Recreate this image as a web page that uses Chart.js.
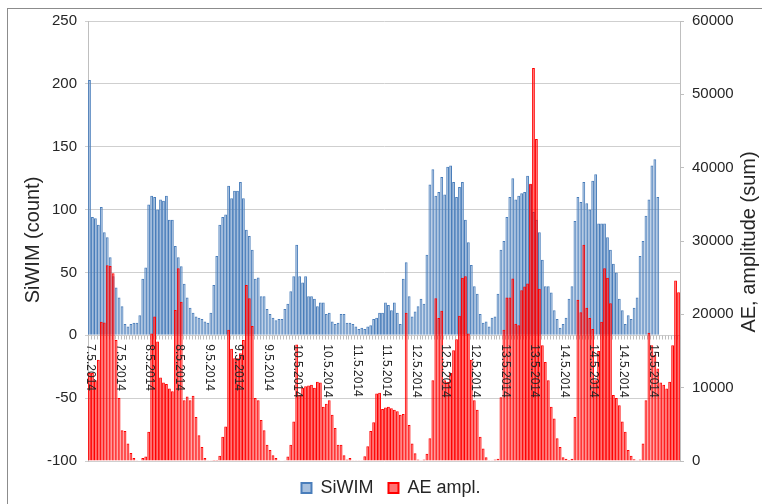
<!DOCTYPE html>
<html>
<head>
<meta charset="utf-8">
<script src="https://cdn.jsdelivr.net/npm/chart.js@4.4.1/dist/chart.umd.min.js"></script>
<style>
html,body{margin:0;padding:0;background:#fff;overflow:hidden}
#wrap{position:relative;width:762px;height:504px;overflow:hidden}
#frame{position:absolute;left:7px;top:8px;width:800px;height:600px;border:1px solid #8c8c8c}
canvas{position:absolute;left:0;top:0}
</style>
</head>
<body>
<div id="wrap"><div id="frame"></div><canvas id="chart" width="762" height="504"></canvas></div>
<script>
// hourly data, first hour 7.5.2014 11:00
var startDay = 7, startHour = 11, hours = 200;
var categories = [];
for (var i = 0; i < hours; i++) {
    categories.push((startDay + Math.floor((startHour + i) / 24)) + ".5.2014");
}

// SiWIM (count) - left axis
var siwimCounts = [
    203, 94, 93, 88, 102, 82, 78, 62, 47, 38,
    30, 23, 9, 7, 9, 10, 10, 16, 45, 54,
    104, 111, 110, 100, 108, 107, 111, 92, 92, 71,
    62, 55, 41, 30, 22, 18, 15, 14, 13, 11,
    10, 18, 40, 63, 88, 94, 96, 119, 109, 115,
    115, 122, 109, 84, 79, 68, 45, 46, 31, 31,
    21, 17, 14, 12, 13, 13, 21, 25, 35, 47,
    72, 47, 42, 47, 31, 31, 29, 23, 26, 26,
    17, 18, 11, 9, 10, 17, 17, 10, 10, 9,
    7, 5, 6, 5, 7, 8, 13, 14, 18, 18,
    26, 24, 20, 26, 18, 9, 45, 58, 31, 15,
    19, 23, 29, 25, 64, 120, 132, 111, 114, 126,
    112, 134, 135, 122, 110, 118, 122, 92, 74, 56,
    39, 33, 17, 10, 11, 7, 14, 15, 33, 68,
    75, 94, 110, 125, 108, 111, 113, 114, 127, 120,
    98, 92, 82, 60, 39, 39, 34, 20, 13, 6,
    9, 14, 29, 39, 91, 110, 106, 122, 105, 100,
    123, 128, 89, 89, 89, 78, 68, 57, 50, 29,
    20, 9, 16, 13, 22, 30, 63, 75, 95, 108,
    135, 140, 110
];

// AE amplitude (sum) - right axis
var aeAmplitudes = [
    12000, 12000, 11000, 13800, 19000, 18900, 26700, 26600, 25600, 16500,
    8600, 4200, 4100, 2400, 1100, 400, 100, 0, 400, 600,
    4000, 17400, 19700, 16300, 11400, 10700, 10500, 9900, 9500, 20600,
    26300, 21700, 8300, 8800, 8300, 8900, 6000, 3500, 1900, 400,
    100, 100, 150, 140, 700, 3300, 4700, 17900, 15300, 14000,
    14000, 14700, 16500, 24000, 22200, 18400, 8600, 8300, 5600, 4200,
    2200, 1500, 800, 400, 100, 0, 50, 600, 2200, 5400,
    15900, 9000, 10000, 10200, 10300, 10400, 10000, 10800, 10700, 7400,
    7800, 8300, 6300, 4500, 2200, 2200, 800, 200, 400, 100,
    50, 50, 100, 650, 2000, 4100, 5300, 9200, 9300, 7100,
    7300, 7400, 7200, 7000, 6800, 6300, 6400, 20200, 4900, 2400,
    1050, 200, 100, 200, 1000, 3100, 11000, 22200, 19500, 20500,
    11000, 10800, 12000, 15100, 16600, 19800, 25000, 25200, 17400, 13800,
    8300, 7000, 3300, 1700, 500, 100, 100, 200, 300, 8700,
    17900, 22300, 22300, 24900, 18700, 18500, 23300, 23800, 24200, 37800,
    53600, 43900, 23500, 15800, 13500, 11000, 7400, 5800, 3100, 1900,
    500, 300, 150, 300, 6000, 22000, 20300, 29500, 20900, 19500,
    18000, 11000, 15000, 19000, 26300, 25000, 21500, 9000, 8600, 7600,
    5400, 4000, 1500, 700, 230, 100, 200, 2400, 8300, 17500,
    15800, 14500, 12600, 10700, 10400, 9900, 10800, 15800, 24600, 23000
];

var labelEvery = 10;
var font = '"Liberation Sans", Arial, sans-serif';
var textColor = '#262626';

// zero line ticks, date labels and axis titles
var extras = {
    id: 'extras',
    afterLayout: function(chart) {
        chart.legend.left += 20;
        chart.legend.top += 3;
        chart.legend.bottom += 3;
    },
    beforeDatasetsDraw: function(chart) {
        var x = chart.scales.x, y = chart.scales.y, ctx = chart.ctx;
        var y0 = Math.round(y.getPixelForValue(0)) + 0.5;
        ctx.save();
        ctx.strokeStyle = '#bdbdbd';
        ctx.lineWidth = 1;
        ctx.beginPath();
        for (var i = 0; i <= categories.length; i++) {
            var px = Math.round(x.getPixelForValue(i - 0.5)) + 0.5;
            ctx.moveTo(px, y0);
            ctx.lineTo(px, y0 + 4);
        }
        ctx.stroke();
        ctx.restore();
    },
    afterDatasetsDraw: function(chart) {
        var x = chart.scales.x, y = chart.scales.y, ctx = chart.ctx;
        var y0 = y.getPixelForValue(0);
        ctx.save();
        ctx.font = '12px ' + font;
        ctx.fillStyle = textColor;
        ctx.textAlign = 'left';
        ctx.textBaseline = 'middle';
        for (var i = 0; i < categories.length; i += labelEvery) {
            ctx.save();
            ctx.translate(x.getPixelForValue(i) + 1, y0 + 9);
            ctx.rotate(Math.PI / 2);
            ctx.fillText(categories[i], 0, 0);
            ctx.restore();
        }
        ctx.restore();
    },
    afterDraw: function(chart) {
        var ctx = chart.ctx;
        ctx.save();
        ctx.font = '20px ' + font;
        ctx.fillStyle = textColor;
        ctx.textAlign = 'center';
        ctx.textBaseline = 'middle';
        ctx.save();
        ctx.translate(33, 240);
        ctx.rotate(-Math.PI / 2);
        ctx.fillText('SiWIM (count)', 0, 0);
        ctx.restore();
        ctx.save();
        ctx.translate(749, 242);
        ctx.rotate(-Math.PI / 2);
        ctx.fillText('AE, amplitude (sum)', 0, 0);
        ctx.restore();
        ctx.restore();
    }
};

var ctx = document.getElementById('chart');
var chart = new Chart(ctx, {
    type: 'bar',
    data: {
        labels: categories,
        datasets: [{
            label: 'SiWIM',
            data: siwimCounts,
            yAxisID: 'y',
            backgroundColor: 'rgba(79,129,189,0.5)',
            borderColor: '#4a7ebb',
            borderWidth: 1,
            grouped: false,
            order: 1,
            barPercentage: 1,
            categoryPercentage: 0.95
        }, {
            label: 'AE ampl.',
            data: aeAmplitudes,
            yAxisID: 'y1',
            backgroundColor: 'rgba(255,0,0,0.55)',
            borderColor: '#ff0000',
            borderWidth: 1,
            grouped: false,
            order: 0,
            barPercentage: 1,
            categoryPercentage: 0.95
        }]
    },
    options: {
        responsive: false,
        animation: false,
        layout: { padding: { left: 2, right: 2, top: 21, bottom: 0 } },
        plugins: {
            tooltip: { enabled: false },
            legend: {
                position: 'bottom',
                labels: {
                    font: { size: 18, family: font },
                    color: textColor,
                    boxWidth: 10,
                    boxHeight: 10,
                    padding: 15,
                    generateLabels: function(chart) {
                        var items = Chart.defaults.plugins.legend.labels.generateLabels(chart);
                        items.forEach(function(it) { it.lineWidth = 2; });
                        return items.sort(function(a, b) { return a.datasetIndex - b.datasetIndex; });
                    }
                }
            }
        },
        scales: {
            x: { display: false },
            y: {
                position: 'left',
                min: -100,
                max: 250,
                ticks: { stepSize: 50, padding: 8, color: textColor, font: { size: 15, family: font } },
                grid: { color: '#cfcfcf', tickLength: 3 },
                border: { color: '#bfbfbf' },
                afterFit: function(s) { s.width = 86; }
            },
            y1: {
                position: 'right',
                min: 0,
                max: 60000,
                ticks: {
                    stepSize: 10000, padding: 8, color: textColor, font: { size: 15, family: font },
                    callback: function(v) { return String(v); }
                },
                grid: { drawOnChartArea: false, tickLength: 4, color: '#bfbfbf' },
                border: { color: '#bfbfbf' },
                afterFit: function(s) { s.width = 80; }
            }
        }
    },
    plugins: [extras]
});
</script>
</body>
</html>
